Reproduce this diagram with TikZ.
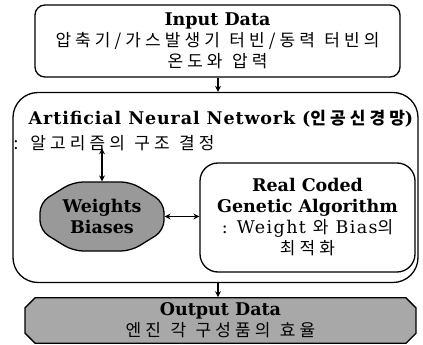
\documentclass[tikz,border=0pt]{standalone}
\usepackage{fontspec}
\setmainfont{DejaVu Serif}
\newfontfamily\krfont{Noto Sans CJK KR}[LetterSpace=24, WordSpace=1.2]
\newcommand{\hangul}[1]{\mbox{\krfont\fontsize{17}{21}\selectfont #1}}
\usepackage{tikz}
\usetikzlibrary{arrows.meta, shapes.misc}
\definecolor{boxgray}{RGB}{168,168,168}
\definecolor{nodegray}{RGB}{153,153,153}

\begin{document}
\begin{tikzpicture}[x=1pt, y=-1pt, >={Stealth[length=6pt, width=6pt]}, line width=1.2pt,
    font=\fontsize{17.5}{21}\selectfont,
    box/.style={draw, rounded corners=10pt, line width=1.3pt, align=center, inner sep=0pt},
    greybox/.style={draw, fill=boxgray, chamfered rectangle, line width=1.3pt, align=center, inner sep=0pt}]
    \useasboundingbox (0,0) rectangle (423,345);

    \node[box, minimum width=365pt, minimum height=72pt] (input) at (217.5,41)
        {\bfseries Input Data\\ \hangul{압축기/가스발생기 터빈/동력 터빈의}\\ \hangul{온도와 압력}};

    \node[box, rounded corners=25pt, minimum width=405pt, minimum height=190pt] (ann) at (215.5,187.5) {};
    \node (anntitle) at (221,119)
        {\addfontfeatures{LetterSpace=5}\bfseries Artificial Neural Network (\hangul{\bfseries 인공신경망})};
    \node[anchor=west, inner sep=0pt] (structure) at (13,143) {\hangul{: 알고리즘의 구조 결정}};

    % octagon behind the weights text
    \coordinate (weights) at (102,216.5);
    \draw[fill=nodegray, line width=1.3pt, rounded corners=10pt]
        ([xshift=-29pt, yshift=-34.5pt]weights) -- ([xshift=29pt, yshift=-34.5pt]weights)
        -- ([xshift=62pt, yshift=-14pt]weights) -- ([xshift=62pt, yshift=14pt]weights)
        -- ([xshift=29pt, yshift=34.5pt]weights) -- ([xshift=-29pt, yshift=34.5pt]weights)
        -- ([xshift=-62pt, yshift=14pt]weights) -- ([xshift=-62pt, yshift=-14pt]weights) -- cycle;
    \node[align=center, minimum width=124pt, minimum height=69pt, inner sep=0pt] (wtext) at (weights)
        {\bfseries Weights\\ \bfseries Biases};

    \node[box, rounded corners=18pt, minimum width=215pt, minimum height=109pt] (ga) at (307.5,217.5)
        {\bfseries Real Coded\\ \bfseries Genetic Algorithm\\
         \mbox{\addfontfeatures{LetterSpace=8}: Weight \hangul{와} Bias\hangul{의}}\\ \hangul{최적화}};

    \node[greybox, chamfered rectangle xsep=5pt, chamfered rectangle ysep=5pt,
        minimum width=391pt, minimum height=45pt] (output) at (220.5,320.5)
        {\bfseries Output Data\\ \hangul{엔진 각 구성품의 효율}};

    \draw[->] (input.south -| 218,0) -- (ann.north -| 218,0);
    \draw[<->] (wtext.north) -- ([yshift=3pt]wtext.north |- structure.south);
    \draw[<->] (wtext.east) -- (wtext.east -| ga.west);
    \draw[->] (ann.south -| 218,0) -- (output.north -| 218,0);
\end{tikzpicture}
\end{document}
